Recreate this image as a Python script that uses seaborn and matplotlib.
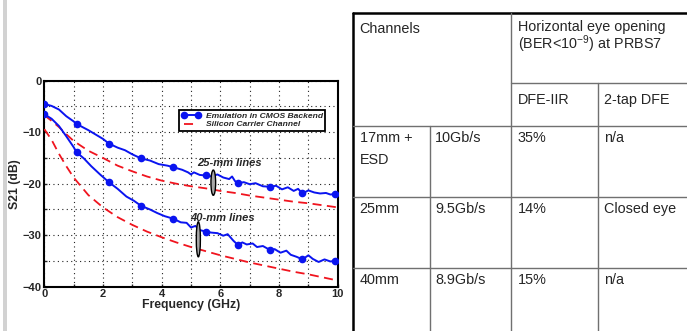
import numpy as np
import pandas as pd
import matplotlib
matplotlib.use("Agg")
import matplotlib.pyplot as plt
import seaborn as sns
from matplotlib.patches import Ellipse, Rectangle

# ---- data ----
emu25_f = [0.0, 0.25, 0.5, 0.75, 1.0, 1.1, 1.5, 2.0, 2.2, 2.5, 2.75, 3.0, 3.3, 3.6, 3.9, 4.2,
           4.4, 4.7, 4.9, 5.0, 5.1, 5.3, 5.5, 5.7, 5.9, 6.1, 6.3, 6.4, 6.5, 6.6, 6.8, 7.0,
           7.2, 7.45, 7.7, 7.9, 8.1, 8.3, 8.5, 8.65, 8.8, 9.0, 9.2, 9.4, 9.6, 9.75, 9.9, 10.0]
emu25_db = [-4.5, -4.9, -5.6, -6.9, -7.9, -8.4, -9.6, -11.3, -12.2, -13.0, -13.5, -14.3, -15.1,
            -15.5, -16.2, -16.5, -16.8, -17.3, -17.8, -18.2, -17.8, -18.3, -18.4, -18.6, -18.2,
            -18.8, -19.1, -18.6, -19.5, -19.9, -19.7, -20.1, -19.9, -20.5, -20.6, -20.4, -21.1,
            -20.7, -21.4, -21.0, -21.9, -21.3, -21.7, -21.9, -21.8, -22.1, -22.0, -22.1]

emu40_f = [0.0, 0.25, 0.5, 0.75, 1.0, 1.1, 1.35, 1.6, 1.9, 2.2, 2.5, 2.8, 3.05, 3.3, 3.6, 3.85,
           4.1, 4.4, 4.65, 4.85, 5.0, 5.15, 5.3, 5.5, 5.7, 5.9, 6.1, 6.25, 6.45, 6.6, 6.75, 6.9,
           7.1, 7.25, 7.45, 7.7, 7.85, 8.05, 8.25, 8.4, 8.6, 8.8, 9.0, 9.15, 9.35, 9.55, 9.75,
           9.9, 10.0]
emu40_db = [-6.5, -7.4, -8.8, -10.8, -12.9, -13.9, -15.1, -16.6, -18.2, -19.7, -21.0, -22.5,
            -23.3, -24.3, -25.0, -25.7, -26.3, -26.8, -27.5, -27.6, -28.5, -28.2, -29.0, -29.3,
            -29.5, -29.6, -30.1, -29.8, -31.1, -31.9, -31.4, -31.8, -31.6, -32.3, -32.1, -32.9,
            -32.7, -33.4, -33.0, -33.8, -34.2, -34.7, -33.9, -34.6, -35.2, -34.7, -35.1, -35.0,
            -35.0]

marker_f = [0.0, 1.1, 2.2, 3.3, 4.4, 5.5, 6.6, 7.7, 8.8, 9.9]

si_f = [0.0, 0.25, 0.5, 0.75, 1.0, 1.5, 2.0, 2.5, 3.0, 3.5, 4.0, 4.5, 5.0, 5.5, 6.0, 6.5,
        7.0, 7.5, 8.0, 8.5, 9.0, 9.5, 10.0]
si25_db = [-6.7, -7.8, -9.0, -10.4, -11.7, -13.6, -15.0, -16.5, -17.6, -18.6, -19.4, -20.0,
           -20.5, -20.9, -21.4, -21.8, -22.3, -22.7, -23.1, -23.5, -23.8, -24.2, -24.6]
si40_db = [-9.4, -11.5, -14.2, -16.6, -18.8, -22.2, -24.6, -26.5, -28.0, -29.3, -30.4, -31.4,
           -32.3, -33.1, -33.9, -34.6, -35.3, -35.9, -36.5, -37.1, -37.6, -38.2, -38.8]

legend_labels = ["Emulation in CMOS Backend", "Silicon Carrier Channel"]

# table contents
header_channels = "Channels"
header_eye = "Horizontal eye opening\n(BER<10$^{-9}$) at PRBS7"
sub_headers = ["DFE-IIR", "2-tap DFE"]
row_channel = [["17mm +", "ESD"], ["25mm"], ["40mm"]]
row_rate = ["10Gb/s", "9.5Gb/s", "8.9Gb/s"]
row_iir = ["35%", "14%", "15%"]
row_dfe = ["n/a", "Closed eye", "n/a"]

# ---- style ----
sns.set_style("ticks")
plt.rcParams['font.family'] = ['Liberation Sans', 'DejaVu Sans']
plt.rcParams['mathtext.fontset'] = 'custom'
plt.rcParams['mathtext.rm'] = 'Liberation Sans'
plt.rcParams['mathtext.default'] = 'regular'

W, H = 687, 331
fig = plt.figure(figsize=(W / 100, H / 100), dpi=100)
fig.patch.set_facecolor('white')

C_BLUE = '#0a14f0'
C_RED = '#f0141e'

ax = fig.add_axes([44.3 / W, 1 - 286.7 / H, 293.4 / W, 206 / H])

def emu_plot(f, db, label):
    idx = [int(np.argmin(np.abs(np.array(f) - m))) for m in marker_f]
    df = pd.DataFrame({'f': f, 'db': db})
    sns.lineplot(data=df, x='f', y='db', ax=ax, color=C_BLUE, lw=1.4, marker='o',
                 markersize=5.5, markeredgewidth=0, markevery=idx, label=label, zorder=4)

emu_plot(emu25_f, emu25_db, legend_labels[0])
emu_plot(emu40_f, emu40_db, None)

si_df = pd.DataFrame({'f': si_f, 's25': si25_db, 's40': si40_db})
sns.lineplot(data=si_df, x='f', y='s25', ax=ax, color=C_RED, lw=1.3, dashes=False,
             label=legend_labels[1], zorder=3)
sns.lineplot(data=si_df, x='f', y='s40', ax=ax, color=C_RED, lw=1.3, dashes=False,
             label=None, zorder=3)
for ln in ax.lines[2:]:
    ln.set_linestyle((0, (5, 3)))

ax.set_xlim(0, 10)
ax.set_ylim(-40, 0)
ax.set_xticks(np.arange(0, 11, 2))
ax.set_xticks(np.arange(0, 11, 1), minor=True)
ax.set_yticks(np.arange(-40, 1, 10))
ax.set_yticks(np.arange(-40, 1, 5), minor=True)
ax.grid(True, which='both', color='#222222', linestyle=(0, (1, 3)), lw=0.8)
ax.tick_params(which='both', direction='in', length=2.5, width=1, pad=2,
               labelsize=8, top=False, right=False)
for lab in ax.get_xticklabels() + ax.get_yticklabels():
    lab.set_fontweight('bold')
for s in ax.spines.values():
    s.set_linewidth(1.5)
    s.set_color('black')
ax.set_xlabel('Frequency (GHz)', fontsize=8.8, fontweight='bold', labelpad=0)
ax.set_ylabel('S21 (dB)', fontsize=8.8, fontweight='bold', labelpad=1)

leg = ax.legend(loc='upper left', bbox_to_anchor=(0.445, 0.88), numpoints=2,
                handlelength=2.3, handletextpad=0.6, borderpad=0.25, labelspacing=0.1,
                fancybox=False, framealpha=1, edgecolor='black',
                prop={'size': 6.1, 'weight': 'bold', 'style': 'italic'})
leg.get_frame().set_linewidth(1.3)
leg.set_zorder(6)

# line-group annotations
ax.text(6.3, -16.6, '25-mm lines', fontsize=8, fontweight='bold', style='italic',
        ha='center', va='baseline', zorder=6)
ax.text(6.08, -27.2, '40-mm lines', fontsize=8, fontweight='bold', style='italic',
        ha='center', va='baseline', zorder=6)
ax.add_patch(Ellipse((5.76, -19.8), 0.16, 4.9, facecolor='#a8a8a8', edgecolor='black',
                     lw=1.0, zorder=5))
ax.add_patch(Ellipse((5.25, -30.8), 0.14, 6.8, facecolor='#a8a8a8', edgecolor='black',
                     lw=1.0, zorder=5))

# ---- table, drawn in pixel coordinates ----
tab = fig.add_axes([0, 0, 1, 1], zorder=-1)
tab.set_xlim(0, W)
tab.set_ylim(H, 0)
tab.axis('off')
tab.add_patch(Rectangle((2.7, 0), 4.6, H, facecolor='#d2d2d2', edgecolor='none'))

col_x = [353, 430, 511, 598, W]
row_y = [13, 83, 126, 197, 268, H]
gray = '#707070'
tab.plot([col_x[0], W], [row_y[0], row_y[0]], color='black', lw=1.8)
tab.plot([col_x[0], col_x[0]], [row_y[0], H], color='black', lw=1.8)
tab.plot([col_x[2], W], [row_y[1], row_y[1]], color=gray, lw=1)
for y in row_y[2:5]:
    tab.plot([col_x[0], W], [y, y], color=gray, lw=1)
tab.plot([col_x[1], col_x[1]], [row_y[2], H], color=gray, lw=1)
tab.plot([col_x[2], col_x[2]], [row_y[0], H], color=gray, lw=1)
tab.plot([col_x[3], col_x[3]], [row_y[1], H], color=gray, lw=1)

fs = 10.4
pad = 6.5
tab.text(col_x[0] + pad, 32.7, header_channels, fontsize=fs, va='baseline')
tab.text(col_x[2] + pad, 20.5, header_eye, fontsize=fs, va='top', linespacing=0.9)
tab.text(col_x[2] + pad, 104.3, sub_headers[0], fontsize=fs, va='baseline')
tab.text(col_x[3] + pad, 104.3, sub_headers[1], fontsize=fs, va='baseline')
row_base = [141.7, 213.3, 284.3]
for i in range(3):
    b = row_base[i]
    for k, line in enumerate(row_channel[i]):
        tab.text(col_x[0] + pad, b + 22.3 * k, line, fontsize=fs, va='baseline')
    tab.text(col_x[1] + 5, b, row_rate[i], fontsize=fs, va='baseline')
    tab.text(col_x[2] + pad, b, row_iir[i], fontsize=fs, va='baseline')
    tab.text(col_x[3] + pad, b, row_dfe[i], fontsize=fs, va='baseline')

fig.savefig('out.png', dpi=100)
